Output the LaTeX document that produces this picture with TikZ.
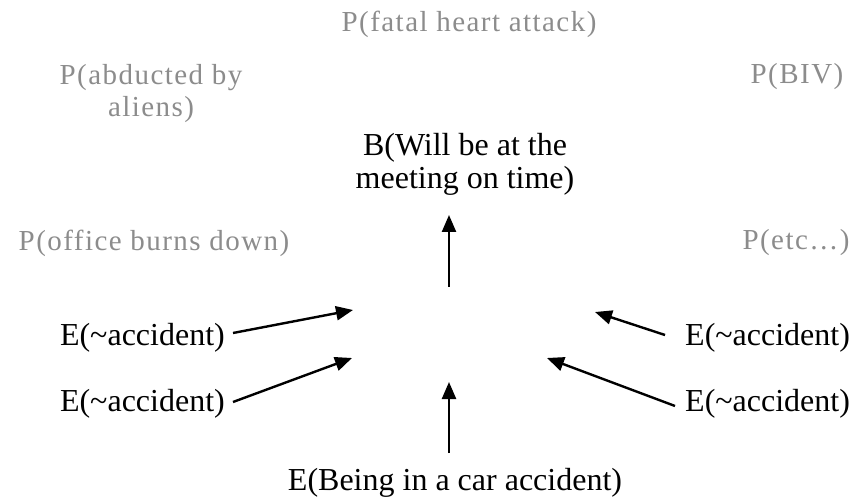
\documentclass[tikz,border=0pt]{standalone}
\usepackage{fontspec}
\setmainfont{Liberation Serif}
\usetikzlibrary{arrows.meta}
\begin{document}
\begin{tikzpicture}[x=1pt,y=-1pt,
  evidence/.style={font=\fontsize{32}{33}\selectfont, align=center, inner sep=0pt},
  prior/.style={font=\fontsize{29}{32}\selectfont\addfontfeatures{LetterSpace=5}, text=black!45, align=center, inner sep=0pt},
  link/.style={line width=2.4pt, -{Triangle[length=17pt,width=14pt]}}]
\useasboundingbox (0,0) rectangle (852,497);

% prior probabilities (grey)
\node[prior] (fatal)  at (469,24)  {P(fatal heart attack)};
\node[prior] (aliens) at (151,94)  {P(abducted by\\aliens)};
\node[prior] (biv)    at (797,77)  {P(BIV)};
\node[prior] (office) at (154,243) {P(office burns down)};
\node[prior] (etc)    at (796,243) {P(etc\ldots)};

% belief
\node[evidence] (belief) at (465,164) {B(Will be at the\\meeting on time)};

% evidence
\node[evidence, anchor=east] (el1) at (225,338) {E(\textasciitilde accident)};
\node[evidence, anchor=east] (el2) at (225,404) {E(\textasciitilde accident)};
\node[evidence, anchor=west] (er1) at (685,338) {E(\textasciitilde accident)};
\node[evidence, anchor=west] (er2) at (685,404) {E(\textasciitilde accident)};
\node[evidence] (car) at (455,483) {E(Being in a car accident)};

% arrow ends in the middle
\coordinate (up0) at (449,287);
\coordinate (up1) at (449,215);
\coordinate (tl1) at (353,310);
\coordinate (tl2) at (352,358);
\coordinate (tr1) at (595,312);
\coordinate (tr2) at (547,358);
\coordinate (tb)  at (449,382);
\coordinate (sl1) at (233,333);
\coordinate (sl2) at (233,402);
\coordinate (sr1) at (665,335);
\coordinate (sr2) at (675,406);
\coordinate (sb)  at (449,453);

\draw[link] (up0) -- (up1);
\draw[link] (sl1) -- (tl1);
\draw[link] (sl2) -- (tl2);
\draw[link] (sr1) -- (tr1);
\draw[link] (sr2) -- (tr2);
\draw[link] (sb) -- (tb);
\end{tikzpicture}
\end{document}
